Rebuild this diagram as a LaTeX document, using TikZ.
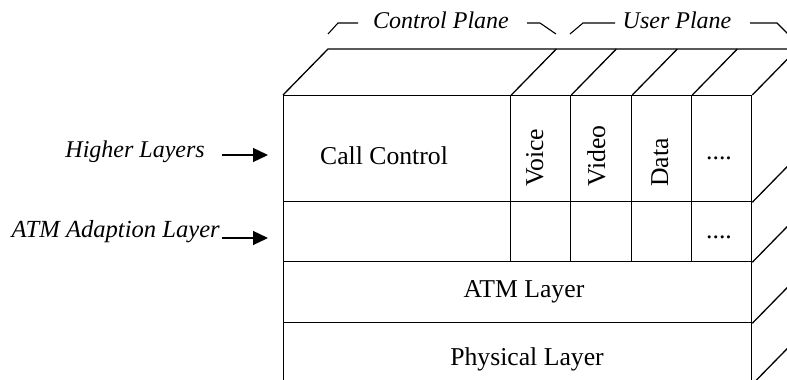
\documentclass[tikz,border=0pt]{standalone}
\usepackage{fontspec}
\setmainfont{Liberation Serif}
\usetikzlibrary{arrows.meta}
\begin{document}
\begin{tikzpicture}[x=1pt,y=-1pt,
  txt/.style={inner sep=0pt, font=\fontsize{25.7}{30}\selectfont},
  itxt/.style={inner sep=0pt, font=\fontsize{24}{29}\selectfont\itshape},
  cell/.style={draw, line width=1.3pt, inner sep=0pt, anchor=north west},
  edge/.style={line width=1.3pt},
  brk/.style={line width=1.1pt},
  arr/.style={-{Triangle[length=15pt,width=14pt]}, line width=1.3pt}]
\useasboundingbox (0,0) rectangle (787,380);
\clip (0,0) rectangle (787,380);
% front face cells
\node[cell, minimum width=227pt, minimum height=106pt] (cc) at (283,95) {};
\node[cell, minimum width=60pt, minimum height=106pt] (vo) at (510,95) {};
\node[cell, minimum width=61pt, minimum height=106pt] (vi) at (570,95) {};
\node[cell, minimum width=60pt, minimum height=106pt] (da) at (631,95) {};
\node[cell, minimum width=60pt, minimum height=106pt] (dt) at (691,95) {};
\node[cell, minimum width=227pt, minimum height=60pt] (a0) at (283,201) {};
\node[cell, minimum width=60pt, minimum height=60pt] (a1) at (510,201) {};
\node[cell, minimum width=61pt, minimum height=60pt] (a2) at (570,201) {};
\node[cell, minimum width=60pt, minimum height=60pt] (a3) at (631,201) {};
\node[cell, minimum width=60pt, minimum height=60pt] (a4) at (691,201) {};
\node[cell, minimum width=468pt, minimum height=61pt] (atm) at (283,261) {};
\node[cell, minimum width=468pt, minimum height=61pt] (phy) at (283,322) {};
% top face
\draw[edge] (cc.north west) -- ++(45,-46) coordinate (tb) -- (796,49);
\foreach \n in {cc,vo,vi,da,dt}{\draw[edge] (\n.north east) -- ++(45,-46);}
% right face
\draw[edge] (dt.south east) -- ++(45,-46);
\draw[edge] (a4.south east) -- ++(45,-46);
\draw[edge] (atm.south east) -- ++(45,-46);
\draw[edge] (phy.south east) -- ++(45,-46);
% texts in cells
\node[txt, anchor=base] (cct) at (384,164) {Call Control};
\node[txt, rotate=90, anchor=base west] (vot) at (543,187) {Voice};
\node[txt, rotate=90, anchor=base west] (vit) at (605,187) {Video};
\node[txt, rotate=90, anchor=base west] (dat) at (668,187) {Data};
\node[txt, anchor=base] (dd1) at (719,159) {....};
\node[txt, anchor=base] (dd2) at (719,238) {....};
\node[txt, anchor=base] (atmt) at (524,297) {ATM Layer};
\node[txt, anchor=base] (phyt) at (527,365) {Physical Layer};
% plane labels
\node[itxt, anchor=base] (cp) at (441,28) {Control Plane};
\node[itxt, anchor=base] (up) at (677,28) {User Plane};
\draw[brk] (328,34) -- (338,23) -- (358,23);
\draw[brk] (527,23) -- (540,23) -- (556,34);
\draw[brk] (570,34) -- (583,23) -- (615,23);
\draw[brk] (750,23) -- (777,23) -- (788,34);
% side labels
\node[itxt, anchor=base east] (hl) at (205,157) {Higher Layers};
\node[itxt, anchor=base east, font=\fontsize{24.6}{29}\selectfont\itshape] (aal) at (220,237) {ATM Adaption Layer};
\coordinate (hls) at (222,155);
\coordinate (hle) at (268,155);
\coordinate (aas) at (222,238);
\coordinate (aae) at (268,238);
\draw[arr] (hls) -- (hle);
\draw[arr] (aas) -- (aae);
\end{tikzpicture}
\end{document}
